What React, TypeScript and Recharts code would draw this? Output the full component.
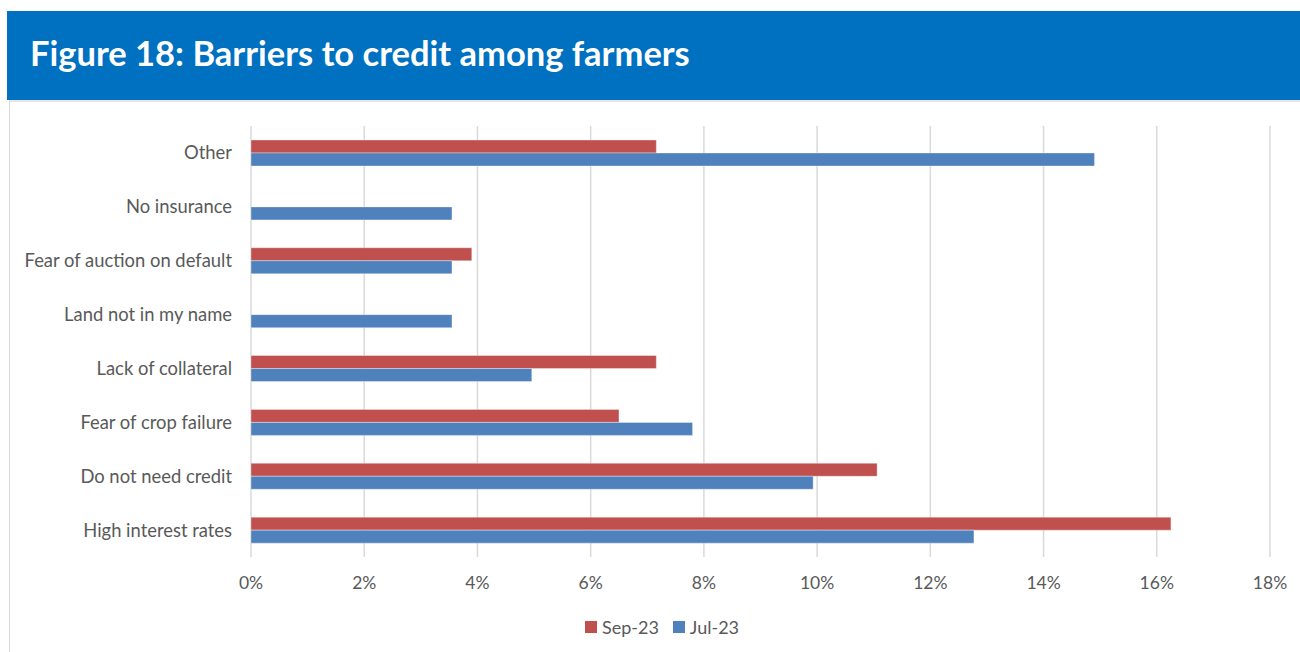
import { BarChart, Bar, XAxis, YAxis, CartesianGrid } from 'recharts'

const categories = [
  'Other',
  'No insurance',
  'Fear of auction on default',
  'Land not in my name',
  'Lack of collateral',
  'Fear of crop failure',
  'Do not need credit',
  'High interest rates',
]
const sep23 = [7.16, 0, 3.9, 0, 7.16, 6.5, 11.06, 16.25]
const jul23 = [14.9, 3.55, 3.55, 3.55, 4.96, 7.8, 9.93, 12.77]
const xTicks = [0, 2, 4, 6, 8, 10, 12, 14, 16, 18]

const RED = '#C0504D'
const BLUE = '#4F81BD'
const FONT = 'Lato, "Noto Sans", sans-serif'

const data = categories.map((c, i) => ({ name: c, sep: sep23[i], jul: jul23[i] }))

export default function App() {
  return (
    <div style={{ position: 'absolute', left: 0, top: 0, width: 1300, height: 652, background: '#fff', fontFamily: FONT }}>
      {/* title banner */}
      <div style={{ position: 'absolute', left: 7, top: 11, width: 1293, height: 89, background: '#0070C0' }}>
        <div style={{ position: 'absolute', left: 23, top: 21, color: '#fff', fontWeight: 700, fontSize: 34.5, whiteSpace: 'nowrap' }}>
          Figure 18: Barriers to credit among farmers
        </div>
      </div>
      <div style={{ position: 'absolute', left: 9, top: 100, width: 1291, height: 552, borderLeft: '1.5px solid #d9d9d9', borderTop: '2px solid #e6e6e6' }} />

      <div style={{ position: 'absolute', left: 0, top: 0 }}>
        <BarChart
          width={1300}
          height={600}
          data={data}
          layout="vertical"
          margin={{ top: 126, right: 30, left: 0, bottom: 0 }}
          barGap={0}
          barSize={13}
        >
          <CartesianGrid horizontal={false} stroke="#d9d9d9" strokeWidth={1.5} />
          <XAxis
            type="number"
            domain={[0, 18]}
            ticks={xTicks}
            tickFormatter={(v: number) => `${v}%`}
            axisLine={false}
            tickLine={false}
            tickMargin={14}
            height={43}
            tick={{ fill: '#595959', fontSize: 17.5, fontFamily: FONT }}
            interval={0}
          />
          <YAxis
            type="category"
            dataKey="name"
            width={251}
            axisLine={false}
            tickLine={false}
            tickMargin={13}
            tick={{ fill: '#595959', fontSize: 18.4, fontFamily: FONT }}
            interval={0}
          />
          <Bar dataKey="sep" fill={RED} stroke="#fff" strokeOpacity={0.35} isAnimationActive={false} />
          <Bar dataKey="jul" fill={BLUE} stroke="#fff" strokeOpacity={0.35} isAnimationActive={false} />
        </BarChart>
      </div>

      {/* legend */}
      <div style={{ position: 'absolute', top: 616, left: 0, width: 1300, display: 'flex', justifyContent: 'center', marginLeft: 12, fontSize: 18, color: '#595959' }}>
        <span style={{ display: 'flex', alignItems: 'center', marginRight: 14 }}>
          <span style={{ width: 12, height: 12, background: RED, marginRight: 5 }} />Sep-23
        </span>
        <span style={{ display: 'flex', alignItems: 'center' }}>
          <span style={{ width: 12, height: 12, background: BLUE, marginRight: 5 }} />Jul-23
        </span>
      </div>
    </div>
  )
}
